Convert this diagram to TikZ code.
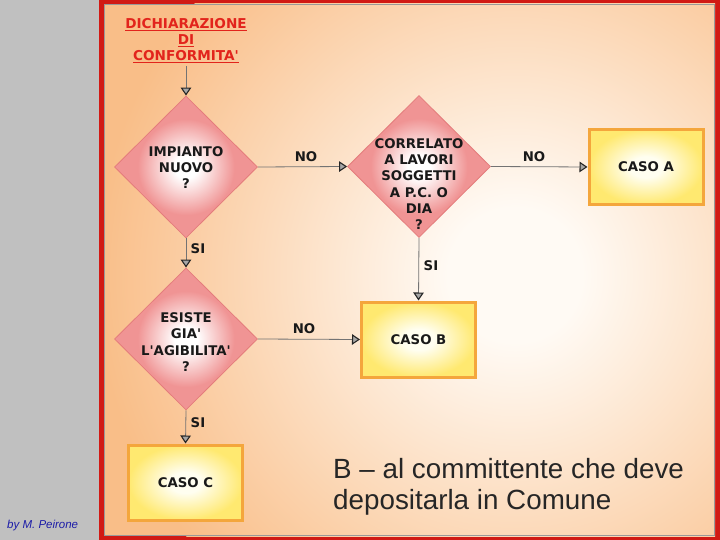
\documentclass[tikz,border=0pt]{standalone}
\usepackage{fontspec}
\setmainfont{DejaVu Sans}[Ligatures=TeXOff]
\newfontfamily\arialf{Liberation Sans}
\usetikzlibrary{shapes.geometric,arrows.meta}
\definecolor{graybg}{HTML}{C0C0C0}
\definecolor{framered}{HTML}{D11A14}
\definecolor{peach}{HTML}{F9BE88}
\definecolor{innerw}{HTML}{FFFAF4}
\definecolor{diapink}{HTML}{F09494}
\definecolor{diaedge}{HTML}{E47C7C}
\definecolor{boxyellow}{HTML}{FFE970}
\definecolor{boxinner}{HTML}{FFFEF0}
\definecolor{boxedge}{HTML}{F4A63C}
\definecolor{titlered}{HTML}{E2241C}
\definecolor{bylue}{HTML}{1C1CA8}
\pgfdeclareradialshading{bgshade}{\pgfpoint{0bp}{0bp}}{color(0bp)=(innerw); color(4bp)=(innerw); color(25bp)=(peach); color(50bp)=(peach)}
\pgfdeclareradialshading{diashade}{\pgfpoint{0bp}{0bp}}{color(0bp)=(white); color(4bp)=(white); color(17bp)=(diapink); color(50bp)=(diapink)}
\pgfdeclareradialshading{boxshade}{\pgfpoint{0bp}{0bp}}{color(0bp)=(boxinner); color(7bp)=(boxinner); color(25bp)=(boxyellow); color(50bp)=(boxyellow)}
\tikzset{
  dia/.style={diamond, draw=diaedge, line width=0.8pt, shading=diashade, minimum width=143pt, minimum height=142pt, inner sep=0pt},
  casebox/.style={rectangle, draw=boxedge, line width=3pt, shading=boxshade, minimum width=114pt, minimum height=75pt, inner sep=0pt, font=\bfseries\fontsize{13.3}{15}\selectfont, text=black!90},
  dtext/.style={align=center, font=\bfseries\fontsize{13.3}{16.3}\selectfont, text=black!90, inner sep=0pt},
  lbl/.style={font=\bfseries\fontsize{13.3}{15}\selectfont, text=black!90, inner sep=0pt},
  conn/.style={draw=black!55, line width=0.8pt, -{Triangle[width=10.5pt,length=8pt,fill=black!35,color=black!85,line width=1.1pt]}}
}
\begin{document}
\begin{tikzpicture}[x=1pt,y=-1pt]
\useasboundingbox (0,0) rectangle (720,540);
\fill[graybg] (0,0) rectangle (99,540);
\fill[framered] (99,0) rectangle (720,540);
\fill[peach] (104,4) rectangle (715,536);
\begin{scope}
\clip (104,4) rectangle (715,536);
\shade[shading=bgshade] (515,275) circle (420);
\end{scope}
\draw[black!40, line width=0.6pt] (104.5,4.5) rectangle (714.5,535.5);

% title
\node[align=center, text=titlered, font=\bfseries\fontsize{13.6}{15.8}\selectfont, inner sep=0pt] (title) at (186,40.5)
  {\underline{DICHIARAZIONE}\\\underline{DI}\\\underline{CONFORMITA'}};
\coordinate (tb) at (186,66);

% diamonds
\node[dia] (d1) at (186,167) {};
\node[dtext] (t1) at (186,167.5) {IMPIANTO\\NUOVO\\?};
\node[dia] (d2) at (419,166.5) {};
\node[dtext] (t2) at (419,184) {CORRELATO\\A LAVORI\\SOGGETTI\\A P.C. O\\DIA\\?};
\node[dia] (d3) at (186,339) {};
\node[dtext] (t3) at (186,342) {ESISTE\\GIA'\\L'AGIBILITA'\\?};

% boxes
\node[casebox] (ca) at (646,167) {CASO A};
\node[casebox] (cb) at (418.5,339.5) {CASO B};
\node[casebox] (cc) at (185.5,482.5) {CASO C};

% connectors
\draw[conn] (tb) -- (d1.north);
\draw[conn] (d1.east) -- (d2.west);
\draw[conn] (d2.east) -- (ca.west);
\draw[conn] (d2.south) -- (cb.north);
\draw[conn] (d1.south) -- (d3.north);
\draw[conn] (d3.east) -- (cb.west);
\draw[conn] (d3.south) -- (cc.north);

% labels
\node[lbl] (l1) at (306,157) {NO};
\node[lbl] (l2) at (534,157) {NO};
\node[lbl] (l3) at (431,266) {SI};
\node[lbl] (l4) at (198,249) {SI};
\node[lbl] (l5) at (304,329) {NO};
\node[lbl] (l6) at (198,423) {SI};

% side text
\node[anchor=base west, inner sep=0pt, font=\arialf\fontsize{27.8}{31}\selectfont, text=black!85] (s1) at (333,478) {B – al committente che deve};
\node[anchor=base west, inner sep=0pt, font=\arialf\fontsize{27.8}{31}\selectfont, text=black!85] (s2) at (333,509) {depositarla in Comune};

\node[anchor=base west, inner sep=0pt, font=\arialf\itshape\fontsize{11.5}{13}\selectfont, text=bylue] (by) at (7,528) {by M. Peirone};
\end{tikzpicture}
\end{document}
